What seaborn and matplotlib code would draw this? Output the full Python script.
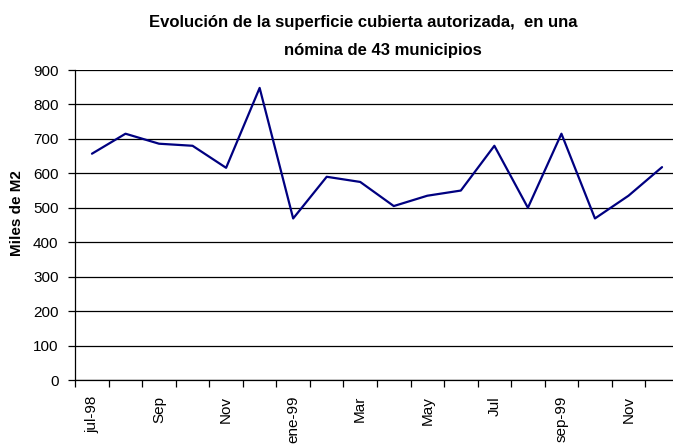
import numpy as np
import pandas as pd
import matplotlib.pyplot as plt
import seaborn as sns

months = ["jul-98", "ago", "Sep", "oct", "Nov", "dic", "ene-99", "feb", "Mar",
          "abr", "May", "jun", "Jul", "ago", "sep-99", "oct", "Nov", "dic"]
values = [657, 715, 686, 680, 616, 848, 469, 590, 575,
          505, 535, 550, 680, 500, 715, 469, 535, 618]
tick_labels = ["jul-98", "Sep", "Nov", "ene-99", "Mar", "May", "Jul", "sep-99", "Nov"]

sns.set_style("white")
plt.rcParams['font.family'] = ['Liberation Sans', 'DejaVu Sans']
plt.rcParams['text.color'] = 'black'
plt.rcParams['xtick.color'] = 'black'
plt.rcParams['ytick.color'] = 'black'
plt.rcParams['axes.labelcolor'] = 'black'

df = pd.DataFrame({"idx": np.arange(len(values)), "value": values})

fig = plt.figure(figsize=(6.73, 4.44), dpi=100)
ax = fig.add_axes([75.2 / 673, 64 / 444, 603.6 / 673, 310 / 444])

sns.lineplot(data=df, x="idx", y="value", ax=ax, color="#000080", linewidth=1.6)

ax.set_ylim(0, 900)
ax.set_xlim(-0.5, len(values) - 0.5)
ax.set_yticks(range(0, 901, 100))
ax.yaxis.grid(True, color="black", linewidth=0.9)
ax.set_axisbelow(True)

ax.set_xticks(range(0, len(values), 2))
ax.set_xticklabels(tick_labels, rotation=90, fontsize=11)
ax.set_xticks(np.arange(-0.5, len(values), 1), minor=True)
ax.tick_params(axis="x", which="major", length=0, pad=11.5)
ax.tick_params(axis="x", which="minor", length=5, width=0.9, color="black", direction="out")
ax.tick_params(axis="y", length=5, width=0.9, color="black", direction="out", labelsize=11, pad=7)
ax.tick_params(left=True, bottom=True, which="both")

for side in ["top", "right"]:
    ax.spines[side].set_visible(False)
for side in ["left", "bottom"]:
    ax.spines[side].set_color("black")
    ax.spines[side].set_linewidth(0.9)

ax.set_xlabel("")
ax.set_ylabel("")
fig.text(17 / 673, 1 - 213 / 444, "Miles de M2", rotation=90, ha="center", va="center",
         fontsize=11, fontweight="bold")

fig.text(363 / 673, 1 - 23 / 444, "Evolución de la superficie cubierta autorizada,  en una",
         ha="center", va="center", fontsize=12, fontweight="bold")
fig.text(383 / 673, 1 - 50 / 444, "nómina de 43 municipios",
         ha="center", va="center", fontsize=12, fontweight="bold")

fig.savefig("out.png", dpi=100)
